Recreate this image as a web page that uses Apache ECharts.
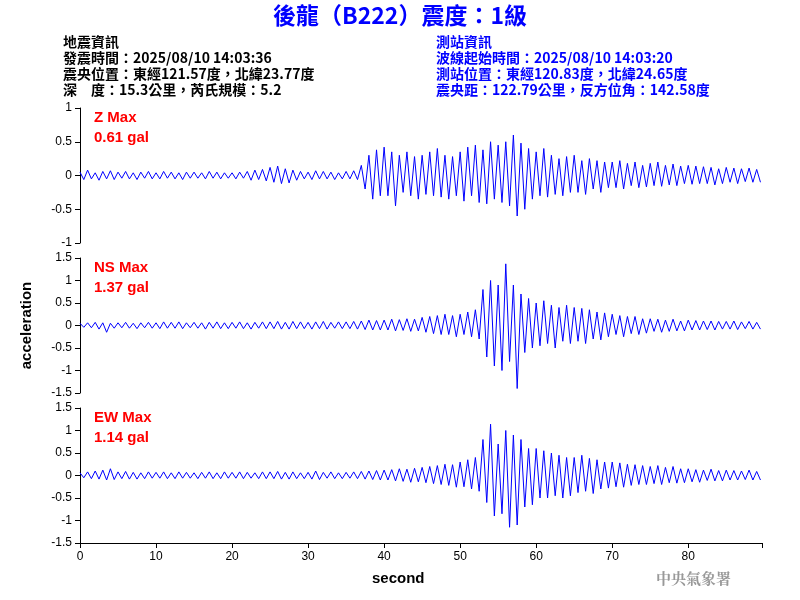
<!DOCTYPE html><html><head><meta charset="utf-8"><script src="https://cdn.jsdelivr.net/npm/echarts@6/dist/echarts.min.js"></script></head><body style="margin:0"><div id="c" style="width:800px;height:600px"></div><script>
var Z=[.05,-.06,.08,-.05,.04,-.07,.06,-.05,.07,-.06,.05,-.04,.06,-.05,.04,-.06,.05,-.04,.06,-.05,.04,-.05,.06,-.04,.05,-.05,.04,-.06,.05,-.04,.05,-.04,.04,-.05,.06,-.04,.05,-.05,.04,-.04,.04,-.05,.05,-.04,.06,-.07,.08,-.06,.09,-.08,.12,-.1,.14,-.12,.1,-.11,.08,-.07,.06,-.05,.05,-.06,.07,-.05,.06,-.05,.05,-.06,.04,-.05,.06,-.05,.07,-.06,.15,-.2,.3,-.35,.38,-.3,.42,-.3,.35,-.45,.3,-.25,.35,-.3,.28,-.35,.3,-.28,.35,-.3,.4,-.32,.3,-.35,.28,-.3,.35,-.38,.42,-.3,.45,-.4,.38,-.42,.5,-.35,.45,-.4,.5,-.45,.6,-.6,.48,-.5,.4,-.35,.35,-.3,.4,-.32,.3,-.28,.25,-.3,.28,-.25,.3,-.25,.22,-.28,.25,-.2,.22,-.25,.2,-.18,.2,-.18,.22,-.2,.18,-.15,.2,-.18,.15,-.17,.18,-.15,.2,-.16,.15,-.14,.17,-.15,.14,-.12,.15,-.13,.14,-.12,.13,-.12,.12,-.14,.1,-.12,.12,-.1,.11,-.12,.1,-.09,.11,-.1,.09,-.1];
var NS=[.05,-.04,.06,-.05,.07,-.08,.06,-.15,.05,-.06,.06,-.05,.07,-.06,.05,-.07,.06,-.05,.07,-.06,.06,-.07,.08,-.06,.07,-.06,.08,-.07,.06,-.05,.07,-.06,.06,-.08,.07,-.06,.08,-.07,.06,-.07,.07,-.06,.08,-.07,.06,-.08,.07,-.06,.08,-.07,.08,-.07,.09,-.08,.07,-.08,.09,-.07,.08,-.07,.07,-.08,.08,-.07,.09,-.08,.07,-.06,.08,-.07,.08,-.07,.09,-.08,.1,-.09,.12,-.1,.11,-.1,.12,-.1,.14,-.12,.13,-.11,.15,-.13,.14,-.12,.18,-.15,.2,-.18,.22,-.2,.25,-.2,.22,-.25,.25,-.2,.3,-.25,.35,-.3,.8,-.7,1.0,-.9,.9,-1.0,1.37,-.8,.9,-1.4,.7,-.6,.6,-.5,.5,-.45,.55,-.4,.45,-.5,.4,-.35,.45,-.4,.4,-.35,.38,-.4,.35,-.3,.3,-.32,.28,-.25,.25,-.2,.22,-.25,.2,-.18,.2,-.2,.15,-.17,.15,-.13,.14,-.15,.12,-.13,.14,-.12,.1,-.12,.12,-.1,.11,-.1,.1,-.09,.1,-.1,.09,-.08,.09,-.08,.1,-.09,.08,-.07,.09,-.08,.07,-.08];
var EW=[.06,-.05,.08,-.07,.1,-.08,.12,-.1,.15,-.09,.08,-.07,.09,-.08,.07,-.08,.06,-.07,.08,-.06,.07,-.06,.08,-.07,.06,-.07,.08,-.06,.07,-.06,.06,-.07,.07,-.06,.08,-.07,.06,-.07,.08,-.06,.07,-.06,.08,-.07,.07,-.06,.06,-.07,.08,-.07,.08,-.07,.09,-.08,.07,-.08,.08,-.07,.06,-.07,.07,-.08,.1,-.09,.07,-.06,.08,-.07,.06,-.07,.07,-.06,.08,-.07,.09,-.08,.1,-.09,.11,-.1,.12,-.1,.13,-.12,.15,-.13,.14,-.15,.16,-.14,.18,-.16,.2,-.18,.22,-.2,.25,-.22,.24,-.26,.3,-.25,.35,-.3,.4,-.35,.8,-.6,1.14,-.9,.7,-.85,1.0,-1.15,.9,-1.1,.8,-.7,.6,-.65,.6,-.5,.55,-.5,.5,-.45,.45,-.5,.4,-.45,.4,-.38,.45,-.35,.38,-.4,.35,-.3,.3,-.28,.3,-.25,.28,-.26,.25,-.22,.24,-.2,.22,-.2,.2,-.18,.22,-.2,.18,-.16,.2,-.17,.15,-.16,.15,-.14,.13,-.15,.12,-.11,.14,-.12,.11,-.12,.12,-.1,.11,-.1,.1,-.09,.12,-.1,.09,-.1];
var STEP=0.5;
function pts(a){return a.map(function(v,i){return [i*STEP,v];});}
var F='Liberation Sans', CJK='"Noto Sans CJK TC","Liberation Sans"';
var ch=echarts.init(document.getElementById('c'));
function grid(t){return {left:80,right:38,top:t,height:135};}
function xa(i,show){return {type:'value',gridIndex:i,min:0,max:89.7,interval:10,show:true,
 axisLine:{show:show,onZero:false,lineStyle:{color:'#000'}},axisTick:{show:show,lineStyle:{color:'#000'}},
 axisLabel:{show:show,color:'#000',fontFamily:F,fontSize:12,formatter:function(v){return v>85?'':v;}},splitLine:{show:false}};}
function ya(i,m,iv,nm){return {type:'value',gridIndex:i,min:-m,max:m,interval:iv,
 name:nm||'',nameLocation:'middle',nameRotate:90,nameGap:46,nameTextStyle:{color:'#000',fontFamily:F,fontSize:15,fontWeight:'bold'},
 axisLine:{show:true,lineStyle:{color:'#000'}},axisTick:{show:true,lineStyle:{color:'#000'}},
 axisLabel:{color:'#000',fontFamily:F,fontSize:12},splitLine:{show:false}};}
function s(i,d){return {type:'line',xAxisIndex:i,yAxisIndex:i,data:pts(d),showSymbol:false,lineStyle:{color:'#0000ff',width:1},animation:false};}
function tx(x,y,t,c,fs,fw,ff){return {type:'text',left:x,top:y,style:{text:t,fill:c,font:(fw||'normal')+' '+fs+'px '+(ff||CJK)}};}
var L=['地震資訊','發震時間：2025/08/10 14:03:36','震央位置：東經121.57度，北緯23.77度','深　度：15.3公里，芮氏規模：5.2'];
var R=['測站資訊','波線起始時間：2025/08/10 14:03:20','測站位置：東經120.83度，北緯24.65度','震央距：122.79公里，反方位角：142.58度'];
var g=[{type:'text',left:'center',top:4,style:{text:'後龍（B222）震度：1級',fill:'#0000ff',font:'bold 23px '+CJK}}];
L.forEach(function(t,i){g.push(tx(63,35+i*16,t,'#000',14,'bold'));});
R.forEach(function(t,i){g.push(tx(436,35+i*16,t,'#0000ff',14,'bold'));});
g.push(tx(94,110,'Z Max','#ff0000',15,'bold',F),tx(94,130,'0.61 gal','#ff0000',15,'bold',F));
g.push(tx(94,260,'NS Max','#ff0000',15,'bold',F),tx(94,280,'1.37 gal','#ff0000',15,'bold',F));
g.push(tx(94,410,'EW Max','#ff0000',15,'bold',F),tx(94,430,'1.14 gal','#ff0000',15,'bold',F));
g.push(tx(372,571,'second','#000',15,'bold',F));
g.push(tx(656,571,'中央氣象署','#999',15,'bold','"Noto Serif CJK TC","Noto Sans CJK TC"'));
ch.setOption({animation:false,backgroundColor:'#fff',
 grid:[grid(108),grid(258),grid(408)],
 xAxis:[xa(0,false),xa(1,false),xa(2,true)],
 yAxis:[ya(0,1,0.5),ya(1,1.5,0.5,'acceleration'),ya(2,1.5,0.5)],
 series:[s(0,Z),s(1,NS),s(2,EW)],graphic:g});
</script></body></html>
